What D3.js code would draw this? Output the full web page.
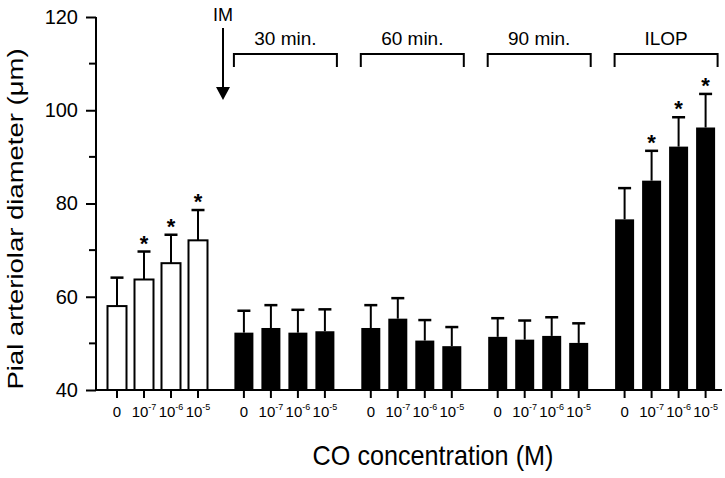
<!DOCTYPE html>
<html>
<head>
<meta charset="utf-8">
<script src="https://cdn.jsdelivr.net/npm/d3@7"></script>
<style>
  body { margin: 0; background: #fff; }
  svg { font-family: Arial, "Liberation Sans", sans-serif; }
</style>
</head>
<body>
<div class="chartContainer"></div>
<script>
// groups and concentrations
const groups = ["control", "30 min.", "60 min.", "90 min.", "ILOP"];
const concentrations = ["0", "-7", "-6", "-5"];

// means and upper error ends, one row per group
const means = [
  [58.0, 63.7, 67.2, 72.1],
  [52.3, 53.3, 52.3, 52.6],
  [53.3, 55.3, 50.6, 49.4],
  [51.4, 50.8, 51.6, 50.1],
  [76.6, 84.9, 92.2, 96.3]
];
const errTops = [
  [64.1, 69.7, 73.3, 78.6],
  [57.0, 58.2, 57.2, 57.3],
  [58.2, 59.7, 55.0, 53.5],
  [55.4, 54.9, 55.6, 54.3],
  [83.3, 91.3, 98.5, 103.5]
];
const significant = [
  [false, true, true, true],
  [false, false, false, false],
  [false, false, false, false],
  [false, false, false, false],
  [false, true, true, true]
];
const yTicks = [40, 60, 80, 100, 120];
const yMinor = [50, 70, 90, 110];

let width = 725;
let height = 478;
let groupStep = 4.7; // slots per group incl. gap

let y = d3.scaleLinear().domain([40, 120]).range([390, 17]);
let x = d3.scaleLinear().domain([0, 1]).range([117, 144]); // one slot = 27px

let pos = (g, j) => x(g * groupStep + j);

let data = [];
means.forEach((row, g) => row.forEach((v, j) => {
  data.push({g: g, j: j, mean: v, top: errTops[g][j], sig: significant[g][j]});
}));

const svg = d3.select(".chartContainer").append("svg")
  .attr("width", width).attr("height", height)
  .attr("viewBox", [0, 0, width, height]);

let barW = 19;

// error bars (drawn first, bars cover the stem)
svg.append("g").selectAll("g").data(data).join("g")
  .each(function(d) {
    let g = d3.select(this);
    let cx = pos(d.g, d.j);
    g.append("line").attr("x1", cx).attr("x2", cx)
      .attr("y1", y(d.mean)).attr("y2", y(d.top))
      .attr("stroke", "#000").attr("stroke-width", 2);
    g.append("line").attr("x1", cx - 6.5).attr("x2", cx + 6.5)
      .attr("y1", y(d.top)).attr("y2", y(d.top))
      .attr("stroke", "#000").attr("stroke-width", 2.5);
  });

// bars
svg.append("g").selectAll("rect").data(data).join("rect")
  .attr("x", d => pos(d.g, d.j) - barW / 2)
  .attr("width", barW)
  .attr("y", d => y(d.mean))
  .attr("height", d => y(40) - y(d.mean))
  .attr("fill", d => d.g === 0 ? "#fff" : "#000")
  .attr("stroke", "#000")
  .attr("stroke-width", d => d.g === 0 ? 2 : 0);

// asterisks
svg.append("g").selectAll("text").data(data.filter(d => d.sig)).join("text")
  .attr("x", d => pos(d.g, d.j))
  .attr("y", d => y(d.top) - 1)
  .attr("text-anchor", "middle")
  .attr("font-size", 22)
  .attr("font-weight", "bold")
  .text("*");

// y axis
svg.append("g")
  .attr("transform", "translate(96,0)")
  .call(d3.axisLeft(y).tickValues(yTicks).tickSize(10).tickPadding(8))
  .call(g => g.select(".domain").attr("stroke-width", 2).attr("d", `M0,${y(120)}V${y(40)}`))
  .call(g => g.selectAll(".tick line").attr("stroke-width", 2))
  .call(g => g.selectAll(".tick text").attr("font-size", 20).attr("fill", "#000").style("font-family", "Arial, 'Liberation Sans', sans-serif"));

svg.append("g").selectAll("line").data(yMinor).join("line")
  .attr("x1", 89).attr("x2", 96)
  .attr("y1", d => y(d)).attr("y2", d => y(d))
  .attr("stroke", "#000").attr("stroke-width", 2);

// x baseline
svg.append("line").attr("x1", 95).attr("x2", 722)
  .attr("y1", y(40)).attr("y2", y(40))
  .attr("stroke", "#000").attr("stroke-width", 2);

// x ticks + labels
let xt = svg.append("g").selectAll("g").data(data).join("g")
  .attr("transform", d => `translate(${pos(d.g, d.j)},${y(40)})`);
xt.append("line").attr("y1", 0).attr("y2", 8).attr("stroke", "#000").attr("stroke-width", 2);
xt.append("text")
  .attr("y", 27)
  .attr("text-anchor", "middle")
  .attr("font-size", 15)
  .each(function(d) {
    let t = d3.select(this);
    let c = concentrations[d.j];
    if (c === "0") { t.text("0"); return; }
    t.append("tspan").text("10");
    t.append("tspan").attr("font-size", 9).attr("dy", -7).text(c);
  });

// brackets above groups
let br = svg.append("g").selectAll("g").data(groups.slice(1)).join("g");
br.append("path")
  .attr("d", (d, i) => {
    let x0 = pos(i + 1, 0) - 10, x1 = Math.min(pos(i + 1, 3) + 12, 719);
    return `M${x0},67V54H${x1}V67`;
  })
  .attr("fill", "none").attr("stroke", "#000").attr("stroke-width", 2);
br.append("text")
  .attr("x", (d, i) => (pos(i + 1, 0) + pos(i + 1, 3)) / 2 + 1)
  .attr("y", 45)
  .attr("text-anchor", "middle")
  .attr("font-size", 19)
  .text(d => d);

// IM arrow
svg.append("text").attr("x", 223).attr("y", 21).attr("text-anchor", "middle")
  .attr("font-size", 18).text("IM");
svg.append("line").attr("x1", 223).attr("x2", 223).attr("y1", 28).attr("y2", 92)
  .attr("stroke", "#000").attr("stroke-width", 2);
svg.append("path").attr("d", "M216,87L223,100L230,87Z").attr("fill", "#000");

// axis titles
svg.append("text")
  .attr("transform", `translate(23,219) rotate(-90) scale(1,0.8)`)
  .attr("text-anchor", "middle")
  .attr("font-size", 27.5)
  .text("Pial arteriolar diameter (\u03bcm)");

svg.append("text")
  .attr("transform", "translate(433,465) scale(0.9,1)")
  .attr("text-anchor", "middle")
  .attr("font-size", 28)
  .text("CO concentration (M)");
</script>
</body>
</html>
